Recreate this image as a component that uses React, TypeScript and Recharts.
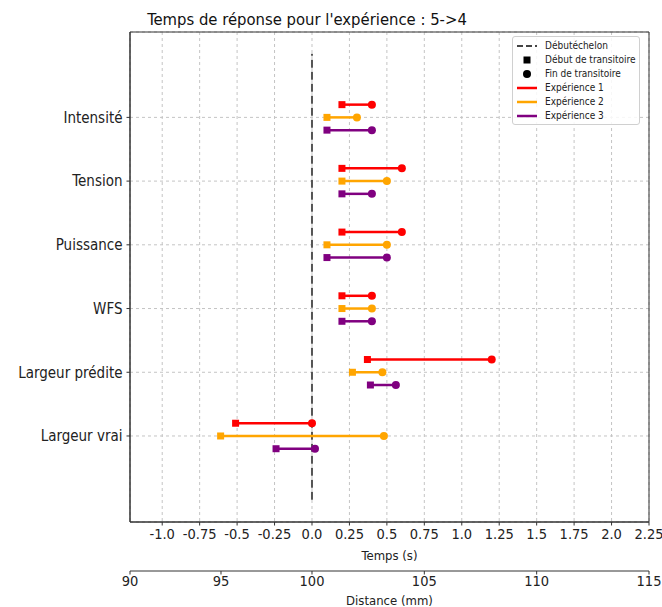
import React from "react";
import {
  ScatterChart,
  Scatter,
  XAxis,
  YAxis,
  CartesianGrid,
  ReferenceLine,
  ReferenceArea,
} from "recharts";

const FONT = "'DejaVu Sans Condensed', 'DejaVu Sans', sans-serif";

const categories = [
  "Intensité",
  "Tension",
  "Puissance",
  "WFS",
  "Largeur prédite",
  "Largeur vrai",
];

// temps (s) début / fin du transitoire
const exp1Start = [0.2, 0.2, 0.2, 0.2, 0.37, -0.51];
const exp1End = [0.4, 0.6, 0.6, 0.4, 1.2, 0.0];
const exp2Start = [0.1, 0.2, 0.1, 0.2, 0.27, -0.61];
const exp2End = [0.3, 0.5, 0.5, 0.4, 0.47, 0.48];
const exp3Start = [0.1, 0.2, 0.1, 0.2, 0.39, -0.24];
const exp3End = [0.4, 0.4, 0.5, 0.4, 0.56, 0.02];

const timeTicks = [-1, -0.75, -0.5, -0.25, 0, 0.25, 0.5, 0.75, 1, 1.25, 1.5, 1.75, 2, 2.25];
const distanceLabels = [90, 95, 100, 105, 110, 115];
const distanceTickTimes = [-1.215, -0.6075, 0, 0.75, 1.5, 2.25];

const stepTime = 0;
const stepRange = [-1, 6];

const T_MIN = -1.215;
const T_MAX = 2.25;
const Y_MIN = -1.35;
const Y_MAX = 6.34;

const experiences = [
  { name: "Expérience 1", color: "#ff0000", start: exp1Start, end: exp1End, offset: 0.2 },
  { name: "Expérience 2", color: "#ffa500", start: exp2Start, end: exp2End, offset: 0 },
  { name: "Expérience 3", color: "#800080", start: exp3Start, end: exp3End, offset: -0.2 },
];

const yOf = (i: number) => categories.length - 1 - i;
const yTicks = categories.map((_, i) => yOf(i));

const fmtTime = (v: number) => (Number.isInteger(v) ? v.toFixed(1) : String(v));

const Marker = (props: any) => {
  const { cx, cy, fill, payload } = props;
  if (cx == null || cy == null) return <g />;
  if (payload.kind === "start") {
    return <rect x={cx - 3.5} y={cy - 3.5} width={7} height={7} fill={fill} />;
  }
  return <circle cx={cx} cy={cy} r={4} fill={fill} />;
};

const LegendBox = () => {
  const rows: { label: string; icon: React.ReactNode }[] = [
    {
      label: "Débutéchelon",
      icon: <line x1={0} y1={5} x2={20} y2={5} stroke="#444" strokeWidth={2} strokeDasharray="6 3" />,
    },
    { label: "Début de transitoire", icon: <rect x={6.5} y={1.5} width={7} height={7} fill="#000" /> },
    { label: "Fin de transitoire", icon: <circle cx={10} cy={5} r={4} fill="#000" /> },
    ...experiences.map((e) => ({
      label: e.name,
      icon: <line x1={0} y1={5} x2={20} y2={5} stroke={e.color} strokeWidth={2.5} />,
    })),
  ];
  return (
    <div
      style={{
        position: "absolute",
        left: 512,
        top: 36,
        width: 128,
        height: 89,
        border: "1px solid #d0d0d0",
        borderRadius: 3,
        background: "rgba(255,255,255,0.85)",
        boxSizing: "border-box",
        fontFamily: FONT,
        fontSize: 10,
        color: "#222",
      }}
    >
      {rows.map((r, i) => (
        <div
          key={r.label}
          style={{ position: "absolute", left: 4, top: 4 + i * 14, height: 10, display: "flex", alignItems: "center" }}
        >
          <svg width={20} height={10} style={{ display: "block" }}>
            {r.icon}
          </svg>
          <span style={{ marginLeft: 8, whiteSpace: "nowrap", lineHeight: "10px" }}>{r.label}</span>
        </div>
      ))}
    </div>
  );
};

export default function App() {
  return (
    <div style={{ position: "absolute", left: 0, top: 0, width: 662, height: 607, background: "#fff" }}>
      <div
        style={{
          position: "absolute",
          left: 307,
          top: 9,
          transform: "translateX(-50%)",
          fontFamily: FONT,
          fontSize: 16.5,
          color: "#111",
          whiteSpace: "nowrap",
          lineHeight: "22px",
        }}
      >
        Temps de réponse pour l'expérience : 5-&gt;4
      </div>
      <ScatterChart width={662} height={607} margin={{ top: 32, right: 13, bottom: 0, left: 0 }}>
        <CartesianGrid xAxisId="a" stroke="#c4c4c4" strokeDasharray="3 3" />
        <XAxis
          xAxisId="a"
          dataKey="t"
          type="number"
          domain={[T_MIN, T_MAX]}
          ticks={timeTicks}
          allowDataOverflow
          tickFormatter={fmtTime}
          height={49}
          tickSize={3.5}
          tickMargin={3}
          axisLine={{ stroke: "#333" }}
          tickLine={{ stroke: "#333" }}
          tick={{ fill: "#222", fontSize: 14.5, fontFamily: FONT }}
          interval={0}
          label={{ value: "Temps (s)", position: "insideBottom", offset: 11, fill: "#222", fontSize: 13, fontFamily: FONT }}
        />
        <XAxis
          xAxisId="b"
          dataKey="t"
          type="number"
          domain={[T_MIN, T_MAX]}
          ticks={distanceTickTimes}
          allowDataOverflow
          tickFormatter={(v: number) => {
            const k = distanceTickTimes.indexOf(v);
            return k >= 0 ? String(distanceLabels[k]) : "";
          }}
          height={36}
          tickSize={3.5}
          tickMargin={1}
          axisLine={{ stroke: "#333" }}
          tickLine={{ stroke: "#333" }}
          tick={{ fill: "#222", fontSize: 14.5, fontFamily: FONT }}
          interval={0}
          label={{ value: "Distance (mm)", position: "insideBottom", offset: 2, fill: "#222", fontSize: 13, fontFamily: FONT }}
        />
        <YAxis
          dataKey="y"
          type="number"
          domain={[Y_MIN, Y_MAX]}
          ticks={yTicks}
          allowDataOverflow
          width={130}
          tickSize={3.5}
          tickMargin={4}
          interval={0}
          tickFormatter={(v: number) => categories[categories.length - 1 - v] ?? ""}
          axisLine={{ stroke: "#333" }}
          tickLine={{ stroke: "#333" }}
          tick={{ fill: "#222", fontSize: 15, fontFamily: FONT }}
        />
        <ReferenceArea
          xAxisId="a"
          x1={T_MIN}
          x2={T_MAX}
          y1={Y_MIN}
          y2={Y_MAX}
          fill="none"
          stroke="#333"
          strokeWidth={1}
          ifOverflow="visible"
        />
        <ReferenceLine
          xAxisId="a"
          segment={[
            { x: stepTime, y: stepRange[0] },
            { x: stepTime, y: stepRange[1] },
          ]}
          stroke="#555"
          strokeWidth={2}
          strokeDasharray="8 4"
        />
        <Scatter
          xAxisId="b"
          data={[
            { t: T_MIN, y: Y_MIN },
            { t: T_MAX, y: Y_MIN },
          ]}
          shape={() => <g />}
          isAnimationActive={false}
        />
        {experiences.flatMap((e) =>
          categories.map((c, i) => (
            <Scatter
              key={e.name + c}
              xAxisId="a"
              data={[
                { t: e.start[i], y: yOf(i) + e.offset, kind: "start" },
                { t: e.end[i], y: yOf(i) + e.offset, kind: "end" },
              ]}
              fill={e.color}
              line={{ stroke: e.color, strokeWidth: 2.5 }}
              shape={<Marker />}
              isAnimationActive={false}
            />
          ))
        )}
      </ScatterChart>
      <LegendBox />
    </div>
  );
}
